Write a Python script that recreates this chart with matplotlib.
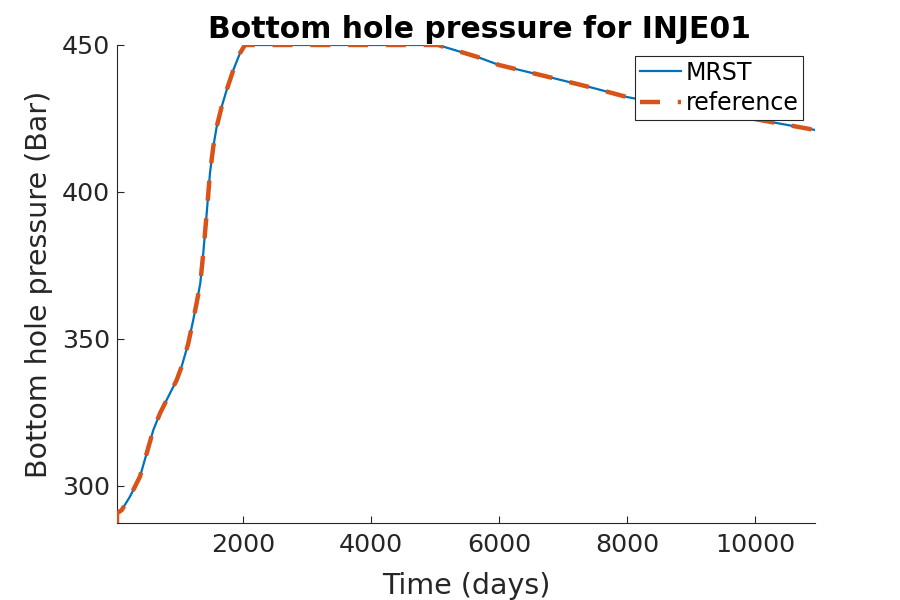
import numpy as np
import matplotlib.pyplot as plt

# Valores (tempo em dias, pressão em bar)
t_mrst = [30, 103, 233, 389, 494, 597, 702, 832, 962, 1040, 1144, 1222,
          1284, 1332, 1378, 1432, 1483, 1535, 1588, 1666, 1744, 1848, 1952,
          2030, 3000, 4000, 5045, 5655, 6000, 6800, 7470, 8000, 9000, 10000,
          10940]
p_mrst = [290.7, 291.8, 296.4, 303.2, 311.1, 319.0, 324.7, 330.4, 336.0,
          340.6, 348.5, 356.5, 363.3, 369.0, 379.1, 392.8, 406.4, 415.4,
          422.2, 429.0, 434.7, 441.5, 447.2, 450.0, 450.0, 450.0, 450.0,
          446.0, 443.2, 439.0, 435.4, 432.3, 428.3, 424.8, 421.1]

t_ref = [30] + t_mrst
p_ref = [287.4] + p_mrst

fig = plt.figure(figsize=(9, 6), dpi=100)
ax = fig.add_axes([0.13, 0.1283, 0.7756, 0.7967])

ax.plot(t_mrst, p_mrst, color='#0072BD', lw=1.6, label='MRST', zorder=2)
ax.plot(t_ref, p_ref, color='#D95319', lw=3.2, linestyle=(0, (4.5, 4.0)),
        label='reference', zorder=3)

ax.set_xlim(30, 10940)
ax.set_ylim(287.4, 450)
ax.set_xticks([2000, 4000, 6000, 8000, 10000])
ax.set_yticks([300, 350, 400, 450])

for s in ['top', 'right']:
    ax.spines[s].set_visible(False)
for s in ['left', 'bottom']:
    ax.spines[s].set_color('#262626')
    ax.spines[s].set_linewidth(0.8)
ax.tick_params(direction='in', length=5, width=0.8, colors='#262626',
               labelsize=18.3, pad=5)
ax.tick_params(axis='x', pad=7)

ax.set_xlabel('Time (days)', fontsize=20.5, color='#262626', labelpad=11)
ax.set_ylabel('Bottom hole pressure (Bar)', fontsize=20.5, color='#262626',
              labelpad=6)
ax.set_title('Bottom hole pressure for INJE01', fontsize=21.5,
             fontweight='bold', pad=5, x=0.519)

leg = ax.legend(loc='upper right', bbox_to_anchor=(0.983, 0.977), fontsize=17,
                frameon=True, fancybox=False, framealpha=1, borderpad=0.2,
                handlelength=1.75, handletextpad=0.2, labelspacing=0.28,
                borderaxespad=0)
leg.get_frame().set_edgecolor('#262626')
leg.get_frame().set_linewidth(0.8)

plt.savefig('out.png', dpi=100)
